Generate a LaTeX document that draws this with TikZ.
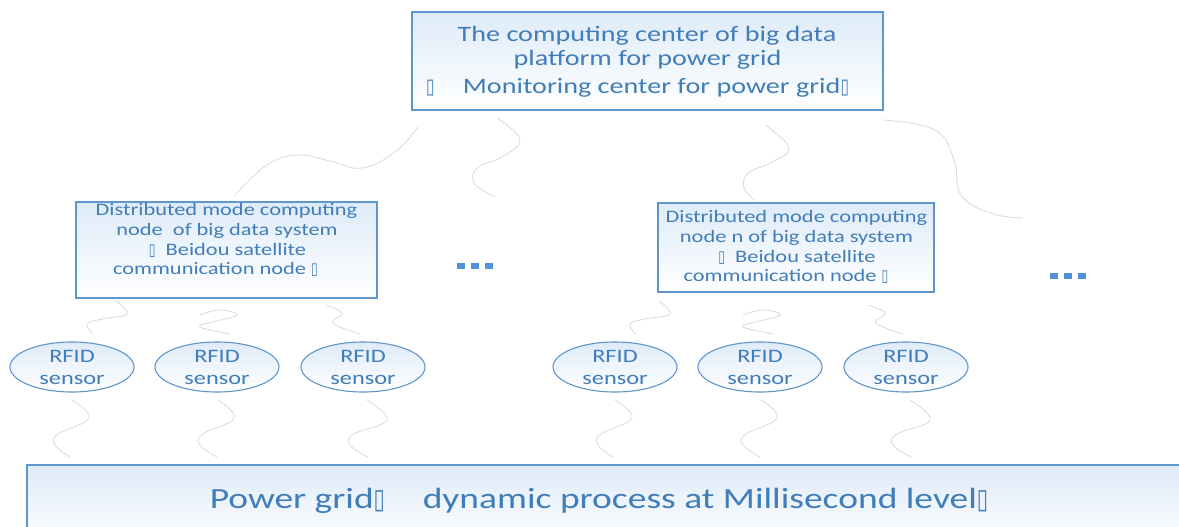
\documentclass[tikz,border=0pt]{standalone}
\usepackage{fontspec}
\setmainfont{Carlito}
\newfontfamily\cf[FakeStretch=1.28]{Carlito}
\newfontfamily\dv{DejaVu Sans}
\usetikzlibrary{shapes.geometric}
\definecolor{txtblue}{RGB}{65,125,185}
\definecolor{edgeblue}{RGB}{95,150,205}
\definecolor{fillblue}{RGB}{222,235,248}
\definecolor{wire}{RGB}{218,218,218}
\definecolor{dotblue}{RGB}{80,145,215}
\newcommand\tofu{\scalebox{0.7}[0.95]{\dv ▯}}
\tikzset{
  box/.style={draw=edgeblue, line width=1.2pt, top color=fillblue, bottom color=white, inner sep=0pt},
  ell/.style={ellipse, draw=edgeblue, line width=1.1pt, top color=fillblue, bottom color=white, inner sep=0pt, minimum width=124pt, minimum height=50pt},
  ln/.style={anchor=base, inner sep=0pt, text=txtblue},
  lnA/.style={ln, font=\cf\fontsize{22}{26}\selectfont},
  lnB/.style={ln, font=\cf\fontsize{17.5}{20}\selectfont},
  lnC/.style={ln, font=\cf\fontsize{19}{22}\selectfont},
  lnD/.style={ln, font=\cf\fontsize{29.3}{34}\selectfont},
  wave/.style={draw=wire, line width=0.8pt},
  dot/.style={fill=dotblue}
}
\begin{document}
\begin{tikzpicture}[x=1pt,y=-1pt]
\clip (0,0) rectangle (1179,527);
\fill[white] (0,0) rectangle (1179,527);

% top box
\node[box, minimum width=471pt, minimum height=98pt] (top) at (647.5,61) {};
\node[lnA] (top1) at (647,42) {The computing center of big data};
\node[lnA] (top2) at (647.5,66) {platform for power grid};
\node[lnA] (top3) at (637.5,93) {\tofu\quad\ Monitoring center for power grid\tofu};

% distributed nodes
\node[box, minimum width=301pt, minimum height=96pt] (d1) at (226.5,250) {};
\node[lnB] (d1a) at (226.5,215) {Distributed mode computing};
\node[lnB] (d1b) at (227,235) {node\ \ of big data system};
\node[lnB] (d1c) at (227.5,255) {\tofu\ \ Beidou satellite};
\node[lnB] (d1d) at (215.5,274) {communication node \tofu};

\node[box, minimum width=276pt, minimum height=89pt] (dn) at (796,247.5) {};
\node[lnB] (dna) at (796.5,222) {Distributed mode computing};
\node[lnB] (dnb) at (796.5,242) {node n of big data system};
\node[lnB] (dnc) at (797,262) {\tofu\ \ Beidou satellite};
\node[lnB] (dnd) at (786,281) {communication node \tofu};

% dots
\fill[dot] (457,263) rectangle (465,269);
\fill[dot] (471,263) rectangle (479,269);
\fill[dot] (485,263) rectangle (493,269);
\fill[dot] (1050,273) rectangle (1058,279);
\fill[dot] (1064,273) rectangle (1072,279);
\fill[dot] (1078,273) rectangle (1086,279);

% RFID sensors
\foreach \n/\x in {1/72,2/217,3/363,4/615,5/760,6/906}{
  \node[ell] (s\n) at (\x,367) {};
  \node[lnC] (s\n a) at (\x,362) {RFID};
  \node[lnC] (s\n b) at (\x,384) {sensor};
}

% bottom box
\node[box, minimum width=1163pt, minimum height=80pt] (grid) at (608.5,505) {};
\node[lnD] (gridt) at (599,508) {Power grid\tofu\quad\ dynamic process at Millisecond level\tofu};

% wavy links top -> distributed
\draw[wave] plot[smooth, tension=0.7] coordinates {(418,127) (395,152) (362,168) (330,161) (298,155) (267,165) (235,195)};
\draw[wave] plot[smooth, tension=0.7] coordinates {(497,118) (520,140) (500,158) (478,167) (474,183) (495,197)};
\draw[wave] plot[smooth, tension=0.7] coordinates {(765,125) (789,148) (770,163) (748,173) (744,188) (755,200)};
\draw[wave] plot[smooth, tension=0.7] coordinates {(883,120) (935,130) (954,160) (961,195) (990,213) (1022,218)};

% wavy links distributed -> sensors, sensors -> grid
\foreach \dx in {0,543}{
  \begin{scope}[xshift=\dx]
  \draw[wave] plot[smooth, tension=0.7] coordinates {(116,301) (127,314) (102,319) (87,324) (93,334)};
  \draw[wave] plot[smooth, tension=0.7] coordinates {(200,315) (220,310) (237,315) (213,322) (200,327) (230,334)};
  \draw[wave] plot[smooth, tension=0.7] coordinates {(325,305) (342,313) (333,323) (360,334)};
  \draw[wave] plot[smooth, tension=0.7] coordinates {(72,400) (89,418) (58,434) (55,445) (70,457)};
  \draw[wave] plot[smooth, tension=0.7] coordinates {(218,400) (234,418) (203,434) (200,445) (217,457)};
  \draw[wave] plot[smooth, tension=0.7] coordinates {(367,400) (387,420) (354,434) (350,445) (368,457)};
  \end{scope}
}
\end{tikzpicture}
\end{document}
